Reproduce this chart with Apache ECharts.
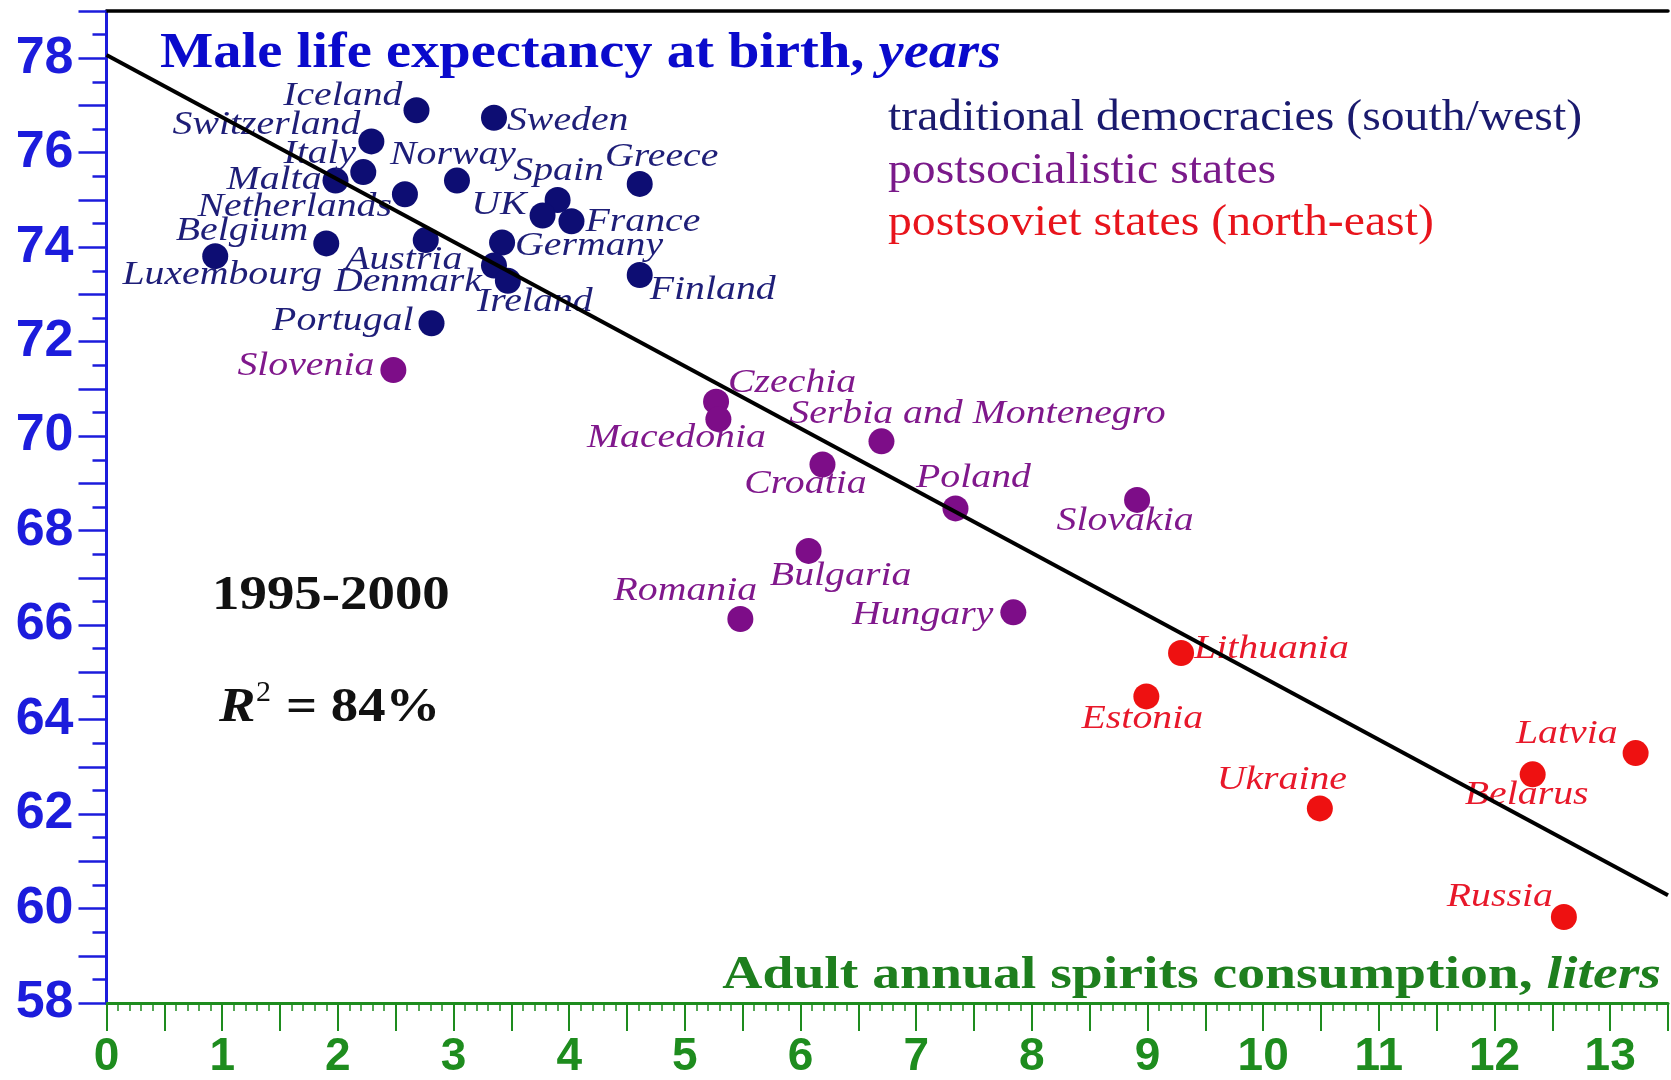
<!DOCTYPE html>
<html>
<head>
<meta charset="utf-8">
<script src="https://cdn.jsdelivr.net/npm/echarts@6/dist/echarts.min.js"></script>
<style>
html,body{margin:0;padding:0;background:#fff;}
#chart{width:1671px;height:1080px;}
</style>
</head>
<body>
<div id="chart"></div>
<script>
// ---- data ----
const tdNames = ['Iceland','Sweden','Switzerland','Italy','Malta','Norway','Netherlands','Spain','Greece','UK','France','Belgium','Austria','Germany','Luxembourg','Denmark','Ireland','Finland','Portugal'];
const tdX = [2.68,3.35,2.29,2.22,1.98,3.03,2.58,3.90,4.61,3.77,4.02,1.90,2.76,3.42,0.94,3.35,3.47,4.61,2.81];
const tdY = [76.90,76.74,76.24,75.59,75.41,75.41,75.12,75.00,75.34,74.67,74.55,74.08,74.15,74.10,73.81,73.61,73.29,73.41,72.39];

const psNames = ['Slovenia','Czechia','Macedonia','Serbia and Montenegro','Croatia','Poland','Slovakia','Bulgaria','Romania','Hungary'];
const psX = [2.48,5.27,5.29,6.70,6.19,7.34,8.91,6.07,5.48,7.84];
const psY = [71.40,70.73,70.36,69.89,69.40,68.47,68.65,67.57,66.13,66.27];

const svNames = ['Lithuania','Estonia','Ukraine','Belarus','Latvia','Russia'];
const svX = [9.29,8.99,10.49,12.33,13.22,12.60];
const svY = [65.41,64.49,62.12,62.84,63.29,59.82];

const trendX = [0, 13.5];
const trendY = [78.07, 60.28];

const groupNames = ['traditional democracies (south/west)','postsocialistic states','postsoviet states (north-east)'];
const xTickValues = [0,1,2,3,4,5,6,7,8,9,10,11,12,13];
const yTickValues = [58,60,62,64,66,68,70,72,74,76,78];
const periodText = '1995-2000';
const r2Text = '= 84%';
const yTitleMain = 'Male life expectancy at birth, ';
const yTitleUnit = 'years';
const xTitleMain = 'Adult annual spirits consumption, ';
const xTitleUnit = 'liters';

// ---- label placement (style, kept apart from the data): [align, dx, dy] ----
const placement = {
  'Iceland':['right',-14,-14], 'Sweden':['left',13,3], 'Switzerland':['right',-11,-16],
  'Italy':['right',-7,-18], 'Malta':['right',-14,-1], 'Norway':['center',-4,-26],
  'Netherlands':['right',-13,13], 'Spain':['center',1,-29], 'Greece':['center',22,-27],
  'UK':['right',-16,-10], 'France':['left',14,1], 'Belgium':['right',-18,-12],
  'Austria':['center',-22,20], 'Germany':['left',13,4], 'Luxembourg':['center',7,19],
  'Denmark':['right',-12,16], 'Ireland':['center',27,21], 'Finland':['left',10,15],
  'Portugal':['right',-18,-2],
  'Slovenia':['right',-19,-4], 'Czechia':['left',12,-19], 'Macedonia':['center',-42,19],
  'Serbia and Montenegro':['center',96,-27], 'Croatia':['center',-17,20], 'Poland':['center',18,-30],
  'Slovakia':['center',-12,21], 'Bulgaria':['center',32,25], 'Romania':['center',-55,-28],
  'Hungary':['right',-20,3],
  'Lithuania':['left',13,-4], 'Estonia':['center',-4,23], 'Ukraine':['center',-38,-28],
  'Belarus':['center',-6,21], 'Latvia':['right',-18,-19], 'Russia':['right',-11,-20]
};

const dotColors = ['#0d0d73','#7d0d88','#ee1111'];
const textColors = ['#1e1e78','#80188c','#e8182a'];
const BLUE = '#1c1cdc';
const GREEN = '#1e8c1e';
const SERIF = '"Liberation Serif","Times New Roman",serif';
const SANS = '"Liberation Sans",Arial,sans-serif';

function zip(xs, ys){ return xs.map((x,i)=>[x, ys[i]]); }

function labelSeries(names, xs, ys, color){
  return {
    type:'custom', silent:true, z:5,
    data: zip(xs, ys),
    renderItem: function(params, api){
      const p = api.coord([api.value(0), api.value(1)]);
      const name = names[params.dataIndex];
      const pl = placement[name] || ['left',12,0];
      return {
        type:'text', x: p[0]+pl[1], y: p[1]+pl[2], scaleX: 1.17,
        style:{ text:name, fill:color, font:'italic 34px '+SERIF, align:pl[0], verticalAlign:'middle' }
      };
    }
  };
}

function dotSeries(xs, ys, color){
  return { type:'scatter', data: zip(xs, ys), symbol:'circle', symbolSize:26, z:4,
           itemStyle:{ color:color, opacity:1 }, silent:true };
}

const chart = echarts.init(document.getElementById('chart'), null, {renderer:'canvas'});

const option = {
  backgroundColor:'#ffffff',
  animation:false,
  grid:{ left:106.5, top:11, width:1572, height:994, containLabel:false },
  xAxis:[{
    type:'value', min:0, max:13.5, interval:0.5,
    axisLine:{ show:true, onZero:false, lineStyle:{ color:GREEN, width:3 } },
    axisTick:{ show:true, length:28, lineStyle:{ color:GREEN, width:2 } },
    minorTick:{ show:true, splitNumber:5, length:8, lineStyle:{ color:GREEN, width:1.5 } },
    splitLine:{ show:false },
    axisLabel:{ show:true, margin:31, color:GREEN, fontFamily:SANS, fontWeight:'bold', fontSize:46,
      formatter: v => (xTickValues.indexOf(v) >= 0 ? String(v) : '') }
  },{
    type:'value', position:'top', min:0, max:13.5,
    axisLine:{ show:true, onZero:false, lineStyle:{ color:'#000', width:3.5 } },
    axisTick:{ show:false }, axisLabel:{ show:false }, splitLine:{ show:false }
  }],
  yAxis:{
    type:'value', min:58, max:79, interval:1,
    axisLine:{ show:true, onZero:false, lineStyle:{ color:BLUE, width:3 } },
    axisTick:{ show:true, length:28, lineStyle:{ color:BLUE, width:2.5 } },
    minorTick:{ show:true, splitNumber:2, length:14, lineStyle:{ color:BLUE, width:2.5 } },
    splitLine:{ show:false },
    axisLabel:{ show:true, margin:33, color:BLUE, fontFamily:SANS, fontWeight:'bold', fontSize:52,
      formatter: v => (yTickValues.indexOf(v) >= 0 ? String(v) : '') }
  },
  series:[
    dotSeries(tdX, tdY, dotColors[0]),
    dotSeries(psX, psY, dotColors[1]),
    dotSeries(svX, svY, dotColors[2]),
    labelSeries(tdNames, tdX, tdY, textColors[0]),
    labelSeries(psNames, psX, psY, textColors[1]),
    labelSeries(svNames, svX, svY, textColors[2]),
    { type:'line', data: zip(trendX, trendY), symbol:'none', z:10, silent:true,
      lineStyle:{ color:'#000', width:4 } }
  ],
  graphic:[
    { type:'text', x:160, y:54, scaleX:1.13, z:20,
      style:{ text:'{a|'+yTitleMain+'}{b|'+yTitleUnit+'}', align:'left', verticalAlign:'middle',
        rich:{ a:{ font:'bold 50px '+SERIF, fill:'#0a0acc' }, b:{ font:'italic bold 50px '+SERIF, fill:'#0a0acc' } } } },
    { type:'text', x:888, y:118, scaleX:1.06, z:20,
      style:{ text:groupNames[0], font:'45px '+SERIF, fill:'#1a1a6e', align:'left', verticalAlign:'middle' } },
    { type:'text', x:888, y:171, scaleX:1.06, z:20,
      style:{ text:groupNames[1], font:'45px '+SERIF, fill:'#7a1a8a', align:'left', verticalAlign:'middle' } },
    { type:'text', x:888, y:223, scaleX:1.06, z:20,
      style:{ text:groupNames[2], font:'45px '+SERIF, fill:'#e8141c', align:'left', verticalAlign:'middle' } },
    { type:'text', x:212, y:596, scaleX:1.12, z:20,
      style:{ text:periodText, font:'bold 49px '+SERIF, fill:'#111', align:'left', verticalAlign:'middle' } },
    { type:'text', x:219, y:709, scaleX:1.14, z:20,
      style:{ text:'R', font:'italic bold 48px '+SERIF, fill:'#111', align:'left', verticalAlign:'middle' } },
    { type:'text', x:256, y:693, z:20,
      style:{ text:'2', font:'30px '+SERIF, fill:'#111', align:'left', verticalAlign:'middle' } },
    { type:'text', x:286, y:709, scaleX:1.14, z:20,
      style:{ text:r2Text, font:'bold 48px '+SERIF, fill:'#111', align:'left', verticalAlign:'middle' } },
    { type:'text', x:1661, y:976, scaleX:1.21, z:20,
      style:{ text:'{a|'+xTitleMain+'}{b|'+xTitleUnit+'}', align:'right', verticalAlign:'middle',
        rich:{ a:{ font:'bold 46px '+SERIF, fill:'#1e7f1e' }, b:{ font:'italic bold 46px '+SERIF, fill:'#1e7f1e' } } } }
  ]
};
chart.setOption(option);
</script>
</body>
</html>
